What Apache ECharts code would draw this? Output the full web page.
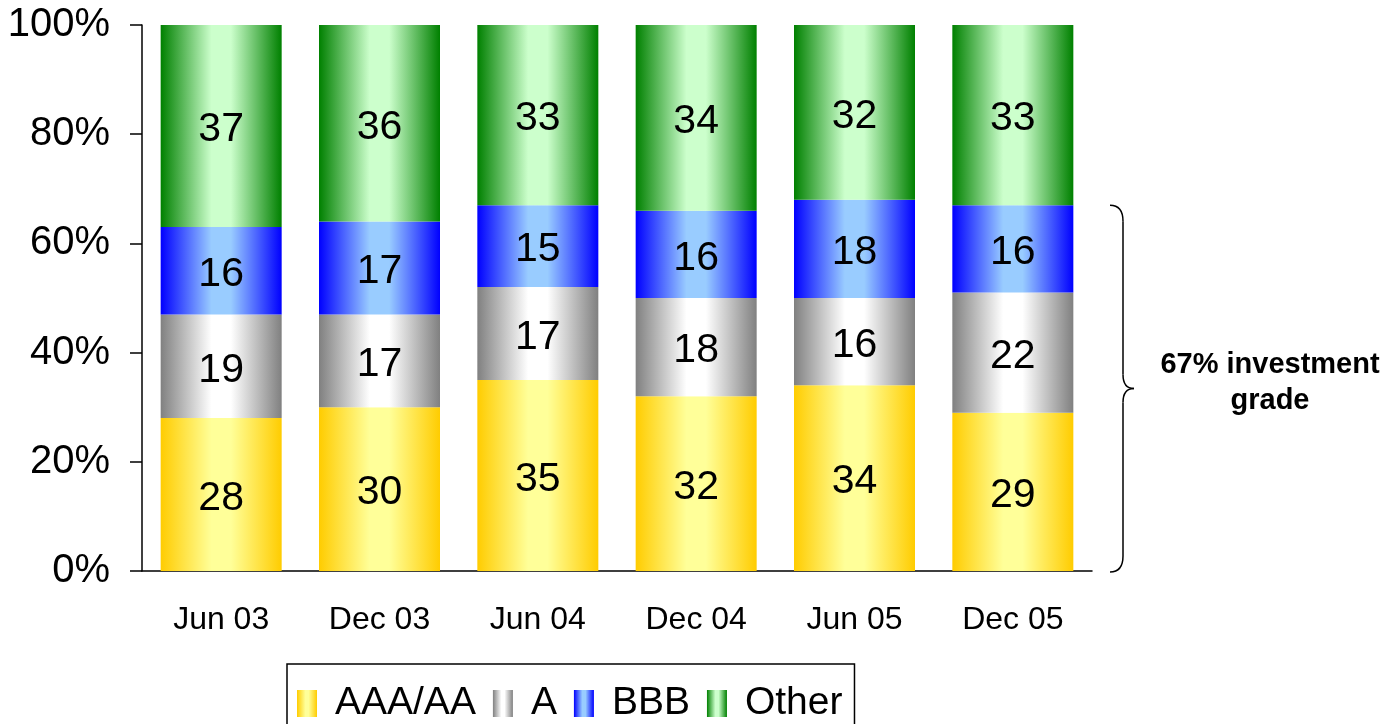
<!DOCTYPE html>
<html>
<head>
<meta charset="utf-8">
<style>
  html, body { margin: 0; padding: 0; background: #ffffff; }
  #chart { width: 1400px; height: 724px; }
</style>
<script src="https://cdn.jsdelivr.net/npm/echarts@6/dist/echarts.min.js"></script>
</head>
<body>
<div id="chart"></div>
<script>
// Rating mix of the portfolio, per reporting date (percent of total)
const categories = ['Jun 03', 'Dec 03', 'Jun 04', 'Dec 04', 'Jun 05', 'Dec 05'];
const aaaAa = [28, 30, 35, 32, 34, 29];
const ratingA = [19, 17, 17, 18, 16, 22];
const ratingBbb = [16, 17, 15, 16, 18, 16];
const other = [37, 36, 33, 34, 32, 33];
const yTicks = [0, 20, 40, 60, 80, 100];
const investmentGradeShare = 67;
const braceNote = '67% investment\ngrade';

const FONT = '"Liberation Sans", Arial, sans-serif';

// Horizontal "cylinder" shading: dark at the edges, light in the middle
function shade(edge, mid) {
  return new echarts.graphic.LinearGradient(0, 0, 1, 0, [
    { offset: 0, color: edge },
    { offset: 0.42, color: mid },
    { offset: 0.58, color: mid },
    { offset: 1, color: edge }
  ]);
}

const seriesDefs = [
  { name: 'AAA/AA', data: aaaAa, color: shade('#FFCC00', '#FFFF99') },
  { name: 'A', data: ratingA, color: shade('#808080', '#FFFFFF') },
  { name: 'BBB', data: ratingBbb, color: shade('#0000FF', '#99CCFF') },
  { name: 'Other', data: other, color: shade('#008000', '#CCFFCC') }
];

const chart = echarts.init(document.getElementById('chart'), null, { renderer: 'canvas' });

const option = {
  animation: false,
  backgroundColor: '#ffffff',
  grid: { left: 142, right: 308, top: 25, bottom: 153, containLabel: false },
  legend: {
    data: seriesDefs.map(s => s.name),
    left: 287,
    top: 664,
    orient: 'horizontal',
    icon: 'rect',
    itemWidth: 20,
    itemHeight: 27,
    itemGap: 17,
    padding: [20, 12, 30, 10],
    borderColor: '#000000',
    borderWidth: 1.5,
    textStyle: { fontFamily: FONT, fontSize: 39, color: '#000000', padding: [0, 0, 0, 13] }
  },
  xAxis: {
    type: 'category',
    data: categories,
    axisLine: { show: true, lineStyle: { color: '#000000', width: 1.5 } },
    axisTick: { show: false },
    axisLabel: { fontFamily: FONT, fontSize: 32, color: '#000000', margin: 33 }
  },
  yAxis: {
    type: 'value',
    min: yTicks[0],
    max: yTicks[yTicks.length - 1],
    interval: yTicks[1] - yTicks[0],
    axisLine: { show: true, lineStyle: { color: '#000000', width: 1.5 } },
    axisTick: { show: true, inside: false, length: 12, lineStyle: { color: '#000000', width: 1.5 } },
    splitLine: { show: false },
    axisLabel: {
      fontFamily: FONT, fontSize: 40, color: '#000000', margin: 32,
      formatter: v => v + '%'
    }
  },
  series: seriesDefs.map(s => ({
    name: s.name,
    type: 'bar',
    stack: 'total',
    data: s.data,
    barWidth: 121,
    itemStyle: { color: s.color },
    label: {
      show: true,
      position: 'inside',
      offset: [0, 4],
      fontFamily: FONT,
      fontSize: 41,
      color: '#000000'
    }
  }))
};

chart.setOption(option);

// Curly brace marking the investment-grade share, placed via the value axis
function drawBrace() {
  const yBottom = chart.convertToPixel({ yAxisIndex: 0 }, 0) + 1;
  const yTop = chart.convertToPixel({ yAxisIndex: 0 }, investmentGradeShare);
  const yMid = (yTop + yBottom) / 2;
  const xEnd = 1110, xLine = 1123, xTip = 1134;
  const stroke = { stroke: '#000000', lineWidth: 1.5, fill: 'none' };
  chart.setOption({
    graphic: [
      { type: 'bezierCurve', shape: { x1: xEnd, y1: yTop, cpx1: xLine, cpy1: yTop, x2: xLine, y2: yTop + 16 }, style: stroke },
      { type: 'line', shape: { x1: xLine, y1: yTop + 16, x2: xLine, y2: yMid - 14 }, style: stroke },
      { type: 'bezierCurve', shape: { x1: xLine, y1: yMid - 14, cpx1: xLine, cpy1: yMid, x2: xTip, y2: yMid }, style: stroke },
      { type: 'bezierCurve', shape: { x1: xTip, y1: yMid, cpx1: xLine, cpy1: yMid, x2: xLine, y2: yMid + 14 }, style: stroke },
      { type: 'line', shape: { x1: xLine, y1: yMid + 14, x2: xLine, y2: yBottom - 16 }, style: stroke },
      { type: 'bezierCurve', shape: { x1: xLine, y1: yBottom - 16, cpx1: xLine, cpy1: yBottom, x2: xEnd, y2: yBottom }, style: stroke },
      {
        type: 'text',
        x: 1270,
        y: yMid - 6,
        style: {
          text: braceNote,
          fontFamily: FONT,
          fontSize: 29,
          fontWeight: 'bold',
          fill: '#000000',
          align: 'center',
          verticalAlign: 'middle',
          lineHeight: 36
        }
      }
    ]
  });
}
drawBrace();
</script>
</body>
</html>
